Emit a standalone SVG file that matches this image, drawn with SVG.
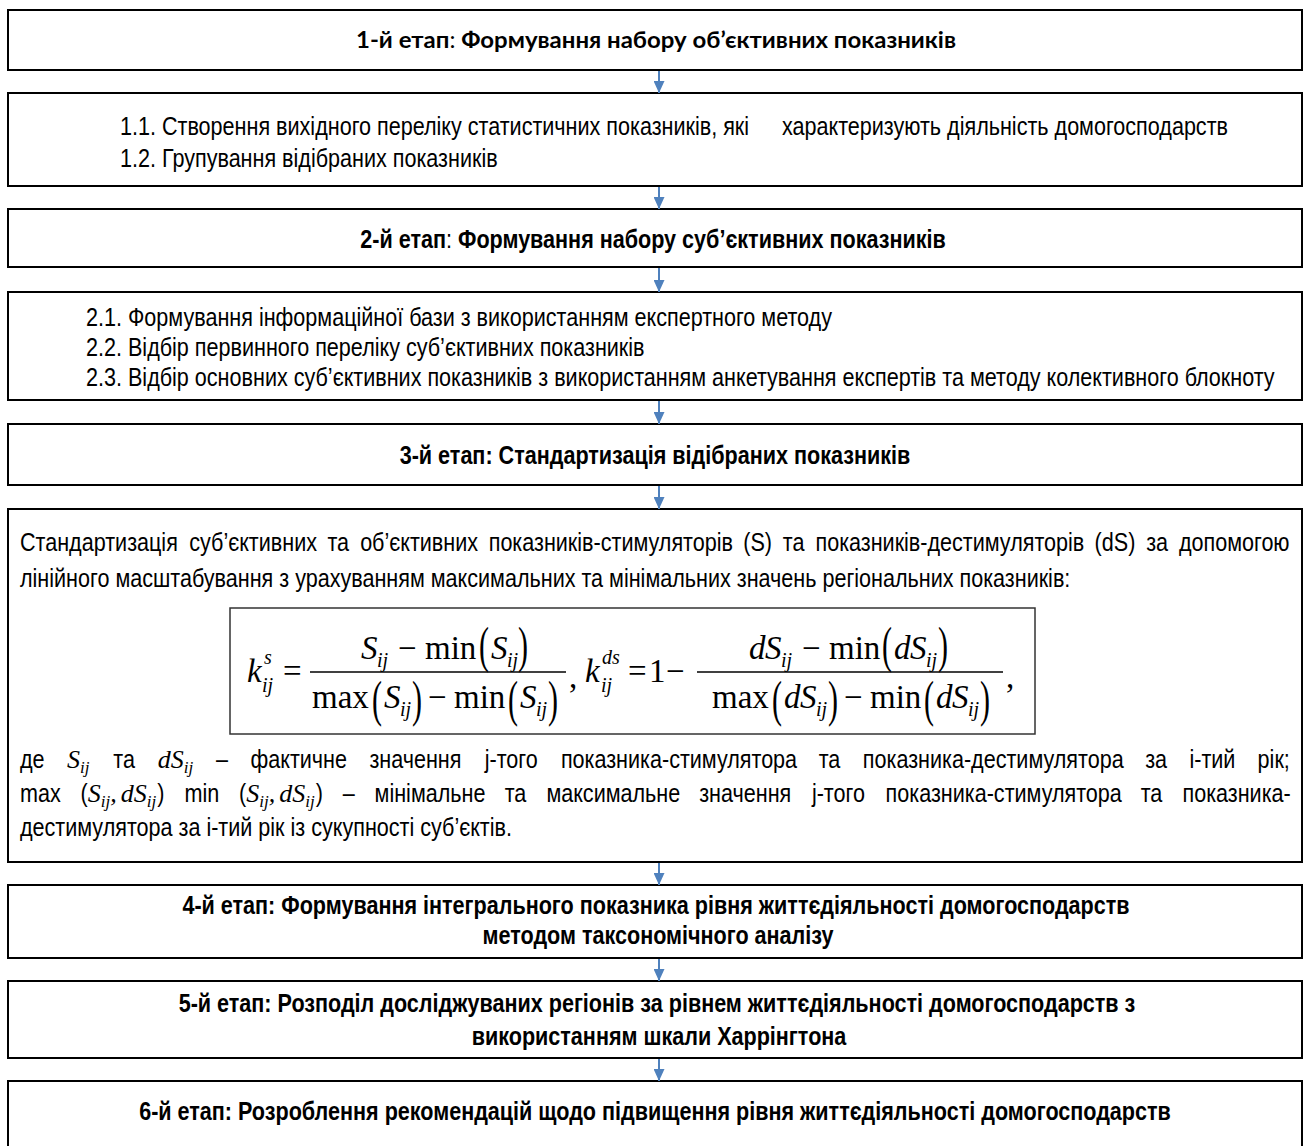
<svg xmlns="http://www.w3.org/2000/svg" width="1307" height="1146" viewBox="0 0 1307 1146">
<defs>
<style>
.box{fill:#fff;stroke:#000;stroke-width:2}
.fbox{fill:none;stroke:#333;stroke-width:1.5}
.t{font-family:"Liberation Sans",Arial,sans-serif;font-size:26px;fill:#000}
.b{font-weight:bold}
.n{font-weight:normal}
.c{text-anchor:middle}
.cal{font-family:Lato,"Open Sans","Noto Sans",sans-serif;font-weight:bold;font-size:23px;fill:#000}
.mr{font-family:"Liberation Serif","Times New Roman",serif;font-size:33px;fill:#000}
.mi{font-family:"Liberation Serif","Times New Roman",serif;font-size:33px;font-style:italic;fill:#000}
.ms{font-family:"Liberation Serif","Times New Roman",serif;font-size:20px;font-style:italic;fill:#000}
.mp{font-family:"Liberation Serif","Times New Roman",serif;font-size:50px;fill:#000}
.mv{font-family:"Liberation Serif","Times New Roman",serif;font-size:26px;font-style:italic;fill:#000}
.mvs{font-family:"Liberation Serif","Times New Roman",serif;font-size:17px;font-style:italic;fill:#000}
.bar{stroke:#000;stroke-width:1.4}
.conn{stroke:#4F81BD;stroke-width:2;fill:none;marker-end:url(#ah)}
</style>
<marker id="ah" viewBox="0 0 12 11" refX="12" refY="5.5" markerWidth="12" markerHeight="11" markerUnits="userSpaceOnUse" orient="auto">
<path d="M0,0 L12,5.5 L0,11 z" fill="#4F81BD"/>
</marker>
</defs>

<g id="node-1">
<rect class="box" x="8" y="10" width="1294" height="60"/>
<text class="cal c" x="656" y="48" textLength="600" lengthAdjust="spacingAndGlyphs">1-й етап<tspan font-weight="normal">:</tspan> Формування набору об’єктивних показників</text>
</g>

<g id="node-1x">
<rect class="box" x="8" y="93" width="1294" height="93"/>
<text class="t" transform="translate(120 135) scale(0.83 1)">1.1. Створення вихідного переліку статистичних показників, які</text>
<text class="t" transform="translate(782 135) scale(0.83 1)">характеризують діяльність домогосподарств</text>
<text class="t" transform="translate(120 167) scale(0.83 1)">1.2. Групування відібраних показників</text>
</g>

<g id="node-2">
<rect class="box" x="8" y="209" width="1294" height="58"/>
<text class="t b c" transform="translate(653 248) scale(0.83 1)">2-й етап<tspan class="n">:</tspan> Формування набору суб’єктивних показників</text>
</g>

<g id="node-2x">
<rect class="box" x="8" y="292" width="1294" height="108"/>
<text class="t" transform="translate(86 326) scale(0.83 1)">2.1. Формування інформаційної бази з використанням експертного методу</text>
<text class="t" transform="translate(86 356) scale(0.83 1)">2.2. Відбір первинного переліку суб’єктивних показників</text>
<text class="t" transform="translate(86 386) scale(0.83 1)">2.3. Відбір основних суб’єктивних показників з використанням анкетування експертів та методу колективного блокноту</text>
</g>

<g id="node-3">
<rect class="box" x="8" y="424" width="1294" height="61"/>
<text class="t b c" transform="translate(655 464) scale(0.83 1)">3-й етап: Стандартизація відібраних показників</text>
</g>

<g id="node-standardization">
<rect class="box" x="8" y="509" width="1294" height="353"/>
<text class="t" transform="translate(20 551) scale(0.83 1)"><tspan x="0">Стандартизація</tspan><tspan x="203.9">суб’єктивних</tspan><tspan x="370.4">та</tspan><tspan x="409.8">об’єктивних</tspan><tspan x="564.7">показників-стимуляторів</tspan><tspan x="871.4">(S)</tspan><tspan x="919">та</tspan><tspan x="958.4">показників-дестимуляторів</tspan><tspan x="1294.7">(dS)</tspan><tspan x="1356.9">за</tspan><tspan x="1396.3">допомогою</tspan></text>
<text class="t" transform="translate(20 587) scale(0.83 1)">лінійного масштабування з урахуванням максимальних та мінімальних значень регіональних показників:</text>

<rect class="fbox" x="230" y="608" width="805" height="126"/>
<g id="formula">
<text class="mi" x="247" y="682">k</text>
<text class="ms" x="264" y="664">s</text>
<text class="ms" x="262" y="692">ij</text>
<text class="mr" x="283" y="682">=</text>
<line class="bar" x1="310" y1="672" x2="566" y2="672"/>
<text class="mi" x="361" y="659">S</text>
<text class="ms" x="377" y="667">ij</text>
<text class="mr" x="398" y="659">−</text>
<text class="mr" x="425" y="659">min</text>
<text class="mp" transform="translate(479,662) scale(0.6,1)">(</text>
<text class="mi" x="491" y="659">S</text>
<text class="ms" x="507" y="667">ij</text>
<text class="mp" transform="translate(518,662) scale(0.6,1)">)</text>
<text class="mr" x="312" y="708">max</text>
<text class="mp" transform="translate(372,716) scale(0.6,1)">(</text>
<text class="mi" x="384" y="708">S</text>
<text class="ms" x="400" y="716">ij</text>
<text class="mp" transform="translate(412,716) scale(0.6,1)">)</text>
<text class="mr" x="428" y="708">−</text>
<text class="mr" x="454" y="708">min</text>
<text class="mp" transform="translate(508,716) scale(0.6,1)">(</text>
<text class="mi" x="520" y="708">S</text>
<text class="ms" x="536" y="716">ij</text>
<text class="mp" transform="translate(548,716) scale(0.6,1)">)</text>
<text class="mr" x="569" y="688">,</text>
<text class="mi" x="585" y="682">k</text>
<text class="ms" x="602" y="664">ds</text>
<text class="ms" x="601" y="692">ij</text>
<text class="mr" x="628" y="682">=</text>
<text class="mr" x="649" y="682">1</text>
<text class="mr" x="666" y="682">−</text>
<line class="bar" x1="697" y1="672" x2="1003" y2="672"/>
<text class="mi" x="749" y="659">d</text>
<text class="mi" x="765" y="659">S</text>
<text class="ms" x="781" y="667">ij</text>
<text class="mr" x="802" y="659">−</text>
<text class="mr" x="829" y="659">min</text>
<text class="mp" transform="translate(882,662) scale(0.6,1)">(</text>
<text class="mi" x="894" y="659">d</text>
<text class="mi" x="910" y="659">S</text>
<text class="ms" x="926" y="667">ij</text>
<text class="mp" transform="translate(938,662) scale(0.6,1)">)</text>
<text class="mr" x="712" y="708">max</text>
<text class="mp" transform="translate(772,716) scale(0.6,1)">(</text>
<text class="mi" x="784" y="708">d</text>
<text class="mi" x="800" y="708">S</text>
<text class="ms" x="816" y="716">ij</text>
<text class="mp" transform="translate(828,716) scale(0.6,1)">)</text>
<text class="mr" x="844" y="708">−</text>
<text class="mr" x="870" y="708">min</text>
<text class="mp" transform="translate(924,716) scale(0.6,1)">(</text>
<text class="mi" x="936" y="708">d</text>
<text class="mi" x="952" y="708">S</text>
<text class="ms" x="968" y="716">ij</text>
<text class="mp" transform="translate(980,716) scale(0.6,1)">)</text>
<text class="mr" x="1006" y="688">,</text>
</g>

<text class="t" transform="translate(20 768) scale(0.83 1)"><tspan x="0">де</tspan><tspan x="112.5">та</tspan><tspan x="236.3">–</tspan><tspan x="277.7">фактичне</tspan><tspan x="421">значення</tspan><tspan x="559.9">j-того</tspan><tspan x="651.7">показника-стимулятора</tspan><tspan x="962.2">та</tspan><tspan x="1015.5">показника-дестимулятора</tspan><tspan x="1355.7">за</tspan><tspan x="1409">і-тий</tspan><tspan x="1491.1">рік;</tspan></text>
<text class="mv" x="67" y="768">S</text><text class="mvs" x="80" y="773">ij</text>
<text class="mv" x="157.7" y="768">dS</text><text class="mvs" x="183.7" y="773">ij</text>

<text class="t" transform="translate(20 802) scale(0.83 1)"><tspan x="0">max</tspan><tspan x="73">(</tspan><tspan x="165.4">)</tspan><tspan x="198.1">min</tspan><tspan x="263.9">(</tspan><tspan x="356.3">)</tspan><tspan x="388.9">–</tspan><tspan x="427.2">мінімальне</tspan><tspan x="584">та</tspan><tspan x="634.2">максимальне</tspan><tspan x="818.3">значення</tspan><tspan x="954.1">j-того</tspan><tspan x="1042.9">показника-стимулятора</tspan><tspan x="1350.2">та</tspan><tspan x="1400.6">показника-</tspan></text>
<text class="mv" x="87.8" y="802">S</text><text class="mvs" x="100.8" y="807">ij</text><text class="mv" x="110.3" y="802">,</text><text class="mv" x="120.8" y="802">dS</text><text class="mvs" x="146.8" y="807">ij</text>
<text class="mv" x="246.2" y="802">S</text><text class="mvs" x="259.2" y="807">ij</text><text class="mv" x="268.7" y="802">,</text><text class="mv" x="279.2" y="802">dS</text><text class="mvs" x="305.2" y="807">ij</text>

<text class="t" transform="translate(20 836) scale(0.83 1)">дестимулятора за і-тий рік із сукупності суб’єктів.</text>
</g>

<g id="node-4">
<rect class="box" x="8" y="885" width="1294" height="73"/>
<text class="t b c" transform="translate(656 914) scale(0.83 1)">4-й етап: Формування інтегрального показника рівня життєдіяльності домогосподарств</text>
<text class="t b c" transform="translate(658 944) scale(0.83 1)">методом таксономічного аналізу</text>
</g>

<g id="node-5">
<rect class="box" x="8" y="981" width="1294" height="77"/>
<text class="t b c" transform="translate(657 1012) scale(0.83 1)">5-й етап: Розподіл досліджуваних регіонів за рівнем життєдіяльності домогосподарств з</text>
<text class="t b c" transform="translate(659 1045) scale(0.83 1)">використанням шкали Харрінгтона</text>
</g>

<g id="node-6">
<rect class="box" x="8" y="1081" width="1294" height="80"/>
<text class="t b c" transform="translate(655 1120) scale(0.83 1)">6-й етап: Розроблення рекомендацій щодо підвищення рівня життєдіяльності домогосподарств</text>
</g>

<g id="connectors">
<line class="conn" x1="659" y1="71" x2="659" y2="93"/>
<line class="conn" x1="659" y1="187" x2="659" y2="209"/>
<line class="conn" x1="659" y1="268" x2="659" y2="292"/>
<line class="conn" x1="659" y1="401" x2="659" y2="424"/>
<line class="conn" x1="659" y1="486" x2="659" y2="509"/>
<line class="conn" x1="659" y1="863" x2="659" y2="885"/>
<line class="conn" x1="659" y1="959" x2="659" y2="981"/>
<line class="conn" x1="659" y1="1059" x2="659" y2="1081"/>
</g>
</svg>
